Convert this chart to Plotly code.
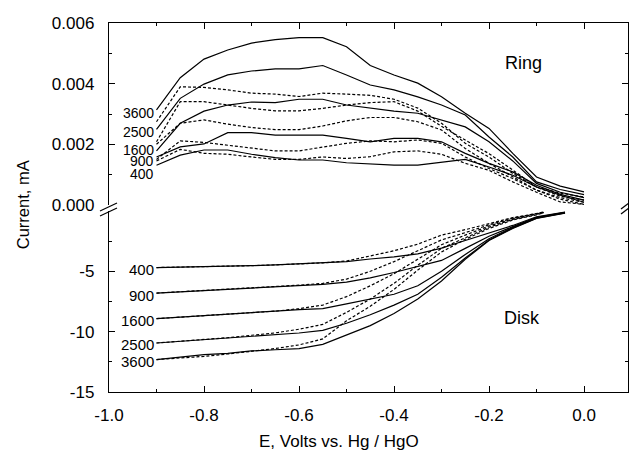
import plotly.graph_objects as go

# ---------------- data ----------------
RPM = ["400", "900", "1600", "2500", "3600"]

E_RING = [-0.9, -0.85, -0.8, -0.75, -0.7, -0.65, -0.6, -0.55, -0.5, -0.45,
          -0.4, -0.35, -0.3, -0.25, -0.2, -0.15, -0.1, -0.05, 0.0]

# ring current (mA), solid = forward scan
RING_SOLID = {
    "3600": [3.14, 4.20, 4.81, 5.11, 5.34, 5.45, 5.52, 5.52, 5.22, 4.60, 4.29, 4.02, 3.57, 3.03, 2.53, 1.71, 0.93, 0.63, 0.44],
    "2500": [2.50, 3.52, 3.99, 4.29, 4.42, 4.49, 4.49, 4.60, 4.29, 3.96, 3.80, 3.57, 3.30, 2.97, 2.25, 1.59, 0.77, 0.52, 0.35],
    "1600": [1.79, 2.70, 3.10, 3.30, 3.40, 3.38, 3.49, 3.49, 3.30, 3.19, 3.10, 3.03, 2.81, 2.58, 2.09, 1.46, 0.72, 0.43, 0.25],
    "900":  [1.59, 1.92, 2.02, 2.39, 2.39, 2.31, 2.31, 2.31, 2.20, 2.09, 2.20, 2.20, 2.09, 1.71, 1.38, 1.10, 0.66, 0.36, 0.17],
    "400":  [1.32, 1.65, 1.82, 1.82, 1.68, 1.57, 1.49, 1.49, 1.40, 1.36, 1.32, 1.32, 1.41, 1.51, 1.26, 0.99, 0.60, 0.33, 0.10],
}
# ring current (mA), dashed = reverse scan
RING_DASH = {
    "3600": [2.75, 3.90, 3.88, 3.80, 3.69, 3.66, 3.58, 3.69, 3.66, 3.62, 3.49, 3.20, 2.70, 2.04, 1.59, 1.05, 0.60, 0.40, 0.27],
    "2500": [2.09, 3.41, 3.41, 3.30, 3.19, 3.11, 3.11, 3.19, 3.30, 3.38, 3.41, 3.10, 2.60, 2.15, 1.70, 1.16, 0.60, 0.30, 0.17],
    "1600": [2.01, 2.70, 2.81, 2.67, 2.56, 2.49, 2.49, 2.61, 2.78, 2.89, 2.89, 2.75, 2.48, 1.87, 1.38, 0.93, 0.50, 0.20, 0.03],
    "900":  [1.51, 2.12, 2.07, 1.98, 1.87, 1.79, 1.79, 1.92, 2.04, 2.12, 2.09, 2.15, 2.04, 1.59, 1.21, 0.88, 0.50, 0.25, 0.10],
    "400":  [1.46, 1.84, 1.71, 1.68, 1.59, 1.51, 1.51, 1.59, 1.54, 1.60, 1.76, 1.79, 1.68, 1.38, 1.15, 0.77, 0.43, 0.11, 0.03],
}

E_DISK_SOLID = [-0.9, -0.85, -0.8, -0.75, -0.7, -0.65, -0.6, -0.55, -0.5, -0.45,
                -0.4, -0.35, -0.3, -0.25, -0.2, -0.15, -0.1, -0.04]
E_DISK_DASH = [-0.9, -0.85, -0.8, -0.75, -0.7, -0.65, -0.6, -0.55, -0.5, -0.45,
               -0.4, -0.35, -0.3, -0.25, -0.2, -0.15, -0.1, -0.085]

# disk current (mA)
DISK_SOLID = {
    "400":  [-4.69, -4.66, -4.62, -4.58, -4.53, -4.47, -4.38, -4.32, -4.20, -3.98, -3.80, -3.55, -3.08, -2.45, -1.85, -1.20, -0.48, -0.10],
    "900":  [-6.80, -6.70, -6.60, -6.50, -6.40, -6.30, -6.20, -6.08, -5.90, -5.55, -5.10, -4.60, -4.10, -3.10, -2.10, -1.30, -0.52, -0.12],
    "1600": [-8.92, -8.80, -8.70, -8.60, -8.45, -8.30, -8.17, -8.09, -7.70, -7.30, -6.90, -6.20, -5.00, -3.60, -2.30, -1.35, -0.56, -0.14],
    "2500": [-10.94, -10.80, -10.70, -10.55, -10.40, -10.30, -10.11, -9.89, -9.30, -8.60, -7.80, -6.90, -5.50, -3.90, -2.40, -1.40, -0.60, -0.16],
    "3600": [-12.31, -12.10, -11.90, -11.80, -11.60, -11.50, -11.40, -11.05, -10.30, -9.50, -8.50, -7.30, -5.80, -4.00, -2.45, -1.45, -0.62, -0.18],
}
DISK_DASH = {
    "400":  [-4.69, -4.66, -4.62, -4.58, -4.53, -4.47, -4.40, -4.30, -4.15, -3.75, -3.30, -2.75, -2.00, -1.55, -1.05, -0.55, -0.22, -0.09],
    "900":  [-6.80, -6.70, -6.60, -6.50, -6.40, -6.30, -6.15, -6.00, -5.65, -5.00, -4.20, -3.30, -2.40, -1.80, -1.15, -0.60, -0.25, -0.10],
    "1600": [-8.92, -8.80, -8.70, -8.60, -8.45, -8.30, -8.10, -7.80, -7.10, -6.20, -5.20, -4.00, -2.80, -2.00, -1.25, -0.65, -0.28, -0.12],
    "2500": [-10.94, -10.80, -10.70, -10.50, -10.30, -10.10, -9.80, -9.40, -8.40, -7.30, -6.00, -4.50, -3.10, -2.20, -1.35, -0.70, -0.30, -0.14],
    "3600": [-12.31, -12.20, -12.05, -11.85, -11.65, -11.40, -11.10, -10.60, -9.10, -7.90, -6.50, -4.90, -3.40, -2.35, -1.45, -0.75, -0.32, -0.15],
}

# label heights for the ring rotation-rate labels (mA)
RING_LABEL_Y = {"3600": 3.04e-3, "2500": 2.42e-3, "1600": 1.82e-3, "900": 1.46e-3, "400": 1.04e-3}

X_TICKS = [-1.0, -0.8, -0.6, -0.4, -0.2, 0.0]
X_TICK_LABELS = ["-1.0", "-0.8", "-0.6", "-0.4", "-0.2", "0.0"]
X_MINOR = [-0.9, -0.7, -0.5, -0.3, -0.1]
RING_TICKS = [0.0, 0.002, 0.004, 0.006]
RING_TICK_LABELS = ["0.000", "0.002", "0.004", "0.006"]
RING_MINOR = [0.001, 0.003, 0.005]
DISK_TICKS = [-15, -10, -5]
DISK_TICK_LABELS = ["-15", "-10", "-5"]
DISK_MINOR = [-12.5, -7.5, -2.5]

# ---------------- figure ----------------
FONT = "Liberation Sans, Arial, Helvetica, sans-serif"
LW = 1.2
fig = go.Figure()

for r in RPM:
    fig.add_trace(go.Scatter(x=E_RING, y=[v * 1e-3 for v in RING_SOLID[r]], mode="lines",
                             line=dict(color="black", width=LW), xaxis="x2", yaxis="y2",
                             showlegend=False, hoverinfo="skip"))
    fig.add_trace(go.Scatter(x=E_RING, y=[v * 1e-3 for v in RING_DASH[r]], mode="lines",
                             line=dict(color="black", width=LW, dash="3px,2px"), xaxis="x2", yaxis="y2",
                             showlegend=False, hoverinfo="skip"))
    fig.add_trace(go.Scatter(x=E_DISK_SOLID, y=DISK_SOLID[r], mode="lines",
                             line=dict(color="black", width=LW), xaxis="x", yaxis="y",
                             showlegend=False, hoverinfo="skip"))
    fig.add_trace(go.Scatter(x=E_DISK_DASH, y=DISK_DASH[r], mode="lines",
                             line=dict(color="black", width=LW, dash="3px,2px"), xaxis="x", yaxis="y",
                             showlegend=False, hoverinfo="skip"))

annotations = []
for r in RPM:
    annotations.append(dict(x=E_RING[0], y=RING_LABEL_Y[r], xref="x2", yref="y2", text=r,
                            showarrow=False, xanchor="right", yanchor="middle", xshift=-1,
                            font=dict(family=FONT, size=14, color="black")))
    annotations.append(dict(x=E_DISK_SOLID[0], y=DISK_SOLID[r][0], xref="x", yref="y", text=r,
                            showarrow=False, xanchor="right", yanchor="middle", xshift=-1, yshift=-2,
                            font=dict(family=FONT, size=15, color="black")))
annotations.append(dict(x=-0.127, y=0.00469, xref="x2", yref="y2", text="Ring", showarrow=False,
                        font=dict(family=FONT, size=18, color="black")))
annotations.append(dict(x=-0.130, y=-8.87, xref="x", yref="y", text="Disk", showarrow=False,
                        font=dict(family=FONT, size=18, color="black")))
annotations.append(dict(x=0.443, y=-0.134, xref="paper", yref="paper", text="E, Volts vs. Hg / HgO",
                        showarrow=False, xanchor="center", yanchor="middle",
                        font=dict(family=FONT, size=17, color="black")))
annotations.append(dict(x=-0.1657, y=0.506, xref="paper", yref="paper", text="Current, mA",
                        showarrow=False, textangle=-90, xanchor="center", yanchor="middle",
                        font=dict(family=FONT, size=16.5, color="black")))

SPLIT = 0.506
axis_common = dict(showline=True, linecolor="black", linewidth=1.4, showgrid=False, zeroline=False,
                   ticks="inside", ticklen=6, tickwidth=1.2, tickcolor="black",
                   tickfont=dict(family=FONT, size=17, color="black"))

fig.update_layout(
    width=629, height=452,
    margin=dict(l=109, r=1, t=23, b=60),
    paper_bgcolor="white", plot_bgcolor="white",
    annotations=annotations,
    xaxis=dict(domain=[0, 1], anchor="y", range=[-1.0, 0.0926], tickvals=X_TICKS, ticktext=X_TICK_LABELS,
               ticklabelstandoff=7,
               minor=dict(tickvals=X_MINOR, ticks="inside", ticklen=3, tickcolor="black", tickwidth=1.1),
               **axis_common),
    xaxis2=dict(domain=[0, 1], anchor="y2", matches="x", side="top", range=[-1.0, 0.0926],
                tickvals=X_TICKS, showticklabels=False,
                minor=dict(tickvals=X_MINOR, ticks="inside", ticklen=3, tickcolor="black", tickwidth=1.1),
                **axis_common),
    yaxis=dict(domain=[0, SPLIT], anchor="x", range=[-15, 0.47], tickvals=DISK_TICKS, ticktext=DISK_TICK_LABELS,
               mirror="ticks", ticklabelstandoff=10,
               minor=dict(tickvals=DISK_MINOR, ticks="inside", ticklen=3, tickcolor="black", tickwidth=1.1),
               **axis_common),
    yaxis2=dict(domain=[SPLIT, 1], anchor="x2", range=[0, 0.006], tickvals=RING_TICKS, ticktext=RING_TICK_LABELS,
                mirror="ticks", ticklabelstandoff=10,
                minor=dict(tickvals=RING_MINOR, ticks="inside", ticklen=3, tickcolor="black", tickwidth=1.1),
                **axis_common),
)

# axis-break marks (decoration)
def pxx(px):
    return (px - 109) / 519.0

def pxy(py):
    return (392 - py) / 369.0

shapes = []
shapes.append(dict(type="rect", xref="paper", yref="paper", x0=pxx(106), x1=pxx(112), y0=pxy(211), y1=pxy(205),
                   fillcolor="white", line=dict(width=0), layer="above"))
for dy in (0, 5):
    shapes.append(dict(type="line", xref="paper", yref="paper", x0=pxx(100), y0=pxy(211 + dy),
                       x1=pxx(117), y1=pxy(203 + dy), line=dict(color="black", width=1.3)))
for dy in (0, 5):
    shapes.append(dict(type="line", xref="paper", yref="paper", x0=pxx(621), y0=pxy(209 + dy),
                       x1=pxx(629), y1=pxy(203 + dy), line=dict(color="black", width=1.3)))
fig.update_layout(shapes=shapes)

fig.write_html("out.html")
